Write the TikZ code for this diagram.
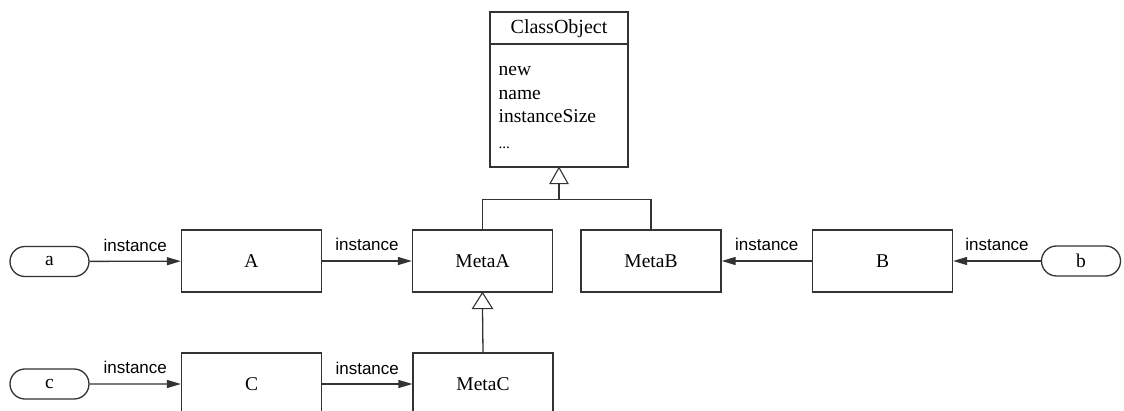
\documentclass[tikz,border=0pt]{standalone}
\usepackage{fontspec}
\setmainfont{Liberation Serif}
\newfontfamily\lblfont{Liberation Sans}
\usetikzlibrary{arrows.meta,shapes.misc,calc}
\begin{document}
\begin{tikzpicture}[x=1pt,y=-1pt,
  line width=1.3pt, draw=black!80,
  cbox/.style={draw, minimum width=140pt, minimum height=62pt, inner sep=0pt, font=\fontsize{19.5}{23}\selectfont},
  obj/.style={draw, rounded rectangle, minimum width=79pt, minimum height=30pt, inner sep=0pt, font=\fontsize{19.5}{23}\selectfont},
  inst/.style={-{Triangle[length=14pt,width=8pt]}},
  lbl/.style={anchor=base, yshift=10pt, inner sep=0pt, font=\lblfont\fontsize{17}{20}\selectfont},
  gen/.style={draw, fill=white, line width=1.1pt},
  mem/.style={anchor=base west, inner sep=0pt, font=\fontsize{19.5}{23}\selectfont}
]
\useasboundingbox (0,0) rectangle (1124,411);
\begin{scope}
\clip (0,0) rectangle (1124,411);
% ClassObject
\node[draw, minimum width=138pt, minimum height=155pt, inner sep=0pt] (cls) at (559,89.5) {};
\draw (cls.west |- 0,44) -- (cls.east |- 0,44);
\node[inner sep=0pt, font=\fontsize{20}{23}\selectfont] (clsname) at (559,29) {ClassObject};
\node[mem] (m1) at (498,76) {new};
\node[mem] (m2) at (498,100) {name};
\node[mem] (m3) at (498,123) {instanceSize};
\node[mem] (m4) at (498,149) {\fontsize{15}{16}\selectfont...};

% class boxes
\node[cbox] (A) at (251.5,261) {A};
\node[cbox] (MetaA) at (482.5,261) {MetaA};
\node[cbox] (MetaB) at (651,261) {MetaB};
\node[cbox] (B) at (882.5,261) {B};
\node[cbox] (C) at (251.5,384) {C};
\node[cbox] (MetaC) at (483,384) {MetaC};

% objects
\node[obj] (a) at (49.5,261.5) {a};
\node[obj] (b) at (1081,261) {b};
\node[obj] (c) at (49.5,384) {c};

% generalization to ClassObject
\coordinate (t1) at ($(cls.south)+(0,16)$);
\coordinate (j) at ($(cls.south)+(0,32)$);
\draw (t1) -- (j);
\draw (MetaA.north) |- (j) -| (MetaB.north);
\draw[gen] (cls.south) -- ++(-9,16) -- ++(18,0) -- cycle;

% generalization MetaC -> MetaA
\coordinate (t2) at ($(MetaA.south)+(0,16)$);
\draw (MetaC.north) -- (t2);
\draw[gen] (MetaA.south) -- ++(-10,16) -- ++(20,0) -- cycle;

% instance arrows
\draw[inst] (a) -- node[lbl] {instance} (A);
\draw[inst] (A) -- node[lbl] {instance} (MetaA);
\draw[inst] (B) -- node[lbl] {instance} (MetaB);
\draw[inst] (b) -- node[lbl] {instance} (B);
\draw[inst] (c) -- node[lbl] {instance} (C);
\draw[inst] (C) -- node[lbl] {instance} (MetaC);
\end{scope}
\end{tikzpicture}
\end{document}
